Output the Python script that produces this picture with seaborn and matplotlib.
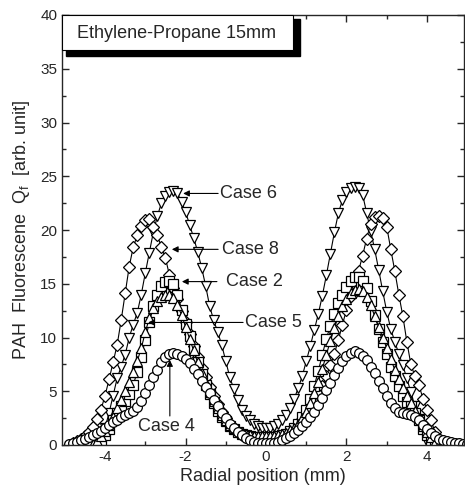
import numpy as np
import pandas as pd
import matplotlib
matplotlib.use("Agg")
import matplotlib.pyplot as plt
from matplotlib.patches import Rectangle
import seaborn as sns

# radial grid (mm), step 0.1
radial = [-5.0, -4.9, -4.8, -4.7, -4.6, -4.5, -4.4, -4.3, -4.2, -4.1,
          -4.0, -3.9, -3.8, -3.7, -3.6, -3.5, -3.4, -3.3, -3.2, -3.1,
          -3.0, -2.9, -2.8, -2.7, -2.6, -2.5, -2.4, -2.3, -2.2, -2.1,
          -2.0, -1.9, -1.8, -1.7, -1.6, -1.5, -1.4, -1.3, -1.2, -1.1,
          -1.0, -0.9, -0.8, -0.7, -0.6, -0.5, -0.4, -0.3, -0.2, -0.1,
          0.0, 0.1, 0.2, 0.3, 0.4, 0.5, 0.6, 0.7, 0.8, 0.9,
          1.0, 1.1, 1.2, 1.3, 1.4, 1.5, 1.6, 1.7, 1.8, 1.9,
          2.0, 2.1, 2.2, 2.3, 2.4, 2.5, 2.6, 2.7, 2.8, 2.9,
          3.0, 3.1, 3.2, 3.3, 3.4, 3.5, 3.6, 3.7, 3.8, 3.9,
          4.0, 4.1, 4.2, 4.3, 4.4, 4.5, 4.6, 4.7, 4.8, 4.9,
          5.0]

N = None
case6 = [N, N, N, N, N, N, N, N, N, 0.3,
         1.6, 3.0, 4.6, 6.2, 7.3, 8.4, 10.0, 11.2, 12.3, 14.0,
         16.0, 17.9, 19.8, 21.3, 22.5, 23.2, 23.5, 23.6, 23.4, 22.6,
         21.7, 20.5, 19.3, 18.0, 16.5, 14.8, 12.9, 11.6, 10.5, 9.3,
         7.8, 6.3, 5.2, 4.2, 3.3, 2.7, 2.3, 2.0, 1.8, 1.6,
         1.6, 1.6, 1.8, 2.0, 2.3, 2.8, 3.4, 4.3, 5.3, 6.4,
         7.8, 9.2, 10.7, 12.2, 13.9, 15.8, 17.8, 19.8, 21.6, 22.8,
         23.5, 23.9, 24.0, 23.9, 23.3, 21.6, 19.9, 18.2, 16.3, 14.3,
         12.4, 10.8, 9.6, 8.5, 7.4, 6.2, 4.9, 3.6, 2.4, 1.3,
         0.3, N, N, N, N, N, N, N, N, N,
         N]

case8 = [N, N, 0.15, 0.4, 0.6, 0.85, 1.2, 1.7, 2.4, 3.3,
         4.6, 6.1, 7.7, 9.3, 11.6, 14.1, 16.6, 18.4, 19.5, 20.4,
         20.9, 21.0, 20.3, 19.5, 18.4, 17.4, 15.8, 14.6, 13.6, 12.5,
         11.4, 10.3, 9.2, 8.2, 7.2, 6.3, 5.4, 4.6, 3.8, 3.1,
         2.5, 2.0, 1.6, 1.2, 0.95, 0.75, 0.6, 0.5, 0.45, 0.4,
         0.4, 0.45, 0.5, 0.6, 0.75, 0.95, 1.2, 1.5, 1.9, 2.4,
         2.9, 3.4, 4.0, 4.7, 5.5, 6.4, 7.4, 8.5, 9.8, 11.2,
         12.6, 13.9, 15.0, 16.2, 17.6, 19.2, 20.6, 21.2, 21.3, 21.1,
         20.3, 18.2, 16.2, 14.0, 12.0, 9.6, 7.5, 6.4, 5.6, 4.3,
         3.3, 2.3, 1.2, 0.6, 0.3, 0.1, N, N, N, N,
         N]

case2 = [N, N, N, N, N, N, N, N, 0.1, 0.4,
         0.9, 1.5, 2.3, 3.0, 3.6, 4.1, 4.7, 5.6, 6.8, 8.2,
         9.8, 11.4, 12.9, 14.0, 14.8, 15.2, 15.3, 15.0, 14.0, 12.6,
         11.3, 10.1, 8.9, 7.7, 6.6, 5.6, 4.7, 3.9, 3.2, 2.6,
         2.2, 1.8, 1.5, 1.25, 1.05, 0.9, 0.8, 0.75, 0.7, 0.7,
         0.7, 0.7, 0.75, 0.8, 0.9, 1.05, 1.3, 1.6, 2.0, 2.6,
         3.3, 4.3, 5.5, 6.9, 8.4, 9.9, 11.1, 12.2, 13.2, 14.0,
         14.7, 15.3, 15.6, 15.6, 15.3, 14.6, 13.4, 12.1, 10.8, 9.6,
         8.5, 7.3, 6.4, 5.5, 4.6, 4.0, 3.6, 3.0, 2.3, 1.5,
         0.9, 0.4, 0.1, N, N, N, N, N, N, N,
         N]

case5 = [N, N, N, N, N, N, N, 0.1, 0.4, 0.8,
         1.3, 1.9, 2.6, 3.4, 4.2, 5.0, 5.9, 6.8, 7.8, 9.0,
         10.5, 11.8, 12.7, 13.4, 13.8, 14.0, 14.0, 13.7, 13.0, 12.1,
         11.0, 9.9, 8.8, 7.7, 6.7, 5.8, 4.9, 4.1, 3.4, 2.8,
         2.3, 1.9, 1.6, 1.35, 1.15, 1.0, 0.9, 0.85, 0.8, 0.8,
         0.8, 0.8, 0.85, 0.9, 1.0, 1.15, 1.35, 1.6, 2.0, 2.5,
         3.1, 3.9, 4.8, 5.9, 7.1, 8.4, 9.7, 10.9, 12.0, 12.9,
         13.6, 14.1, 14.4, 14.5, 14.3, 13.8, 13.0, 12.0, 11.0, 10.0,
         9.0, 8.0, 7.0, 6.1, 5.3, 4.6, 3.9, 3.2, 2.5, 1.8,
         1.2, 0.7, 0.3, 0.1, N, N, N, N, N, N,
         N]

case4 = [N, 0.05, 0.15, 0.3, 0.45, 0.6, 0.75, 0.9, 1.1, 1.3,
         1.55, 1.85, 2.1, 2.35, 2.6, 2.8, 3.0, 3.2, 3.5, 4.1,
         4.8, 5.6, 6.3, 7.0, 7.7, 8.2, 8.5, 8.6, 8.5, 8.3,
         8.0, 7.6, 7.1, 6.6, 6.0, 5.4, 4.8, 4.2, 3.6, 3.0,
         2.5, 2.0, 1.6, 1.2, 0.9, 0.65, 0.45, 0.3, 0.2, 0.15,
         0.15, 0.15, 0.2, 0.3, 0.45, 0.65, 0.85, 1.1, 1.4, 1.75,
         2.1, 2.6, 3.1, 3.7, 4.4, 5.1, 5.8, 6.5, 7.2, 7.8,
         8.3, 8.6, 8.7, 8.6, 8.3, 7.9, 7.3, 6.7, 6.0, 5.3,
         4.6, 3.9, 3.4, 3.1, 3.0, 2.9, 2.8, 2.6, 2.3, 1.9,
         1.5, 1.1, 0.8, 0.6, 0.45, 0.35, 0.25, 0.2, 0.15, 0.1,
         0.05]

series = [("Case 6", case6, "v", 7.5),
          ("Case 8", case8, "D", 6.0),
          ("Case 2", case2, "s", 6.5),
          ("Case 5", case5, "^", 7.5),
          ("Case 4", case4, "o", 7.0)]

sns.set_style("ticks")
plt.rcParams['font.family'] = ['Liberation Sans', 'DejaVu Sans']
plt.rcParams['axes.unicode_minus'] = False
plt.rcParams['mathtext.fontset'] = 'custom'
plt.rcParams['mathtext.rm'] = 'Liberation Sans'
plt.rcParams['mathtext.it'] = 'Liberation Sans'

fig = plt.figure(figsize=(4.65, 4.95), dpi=100)
ax = fig.add_axes([62 / 465, 50 / 495, 402 / 465, 430 / 495])

for name, vals, mk, ms in series:
    df = pd.DataFrame({"r": radial, "q": [np.nan if v is None else v for v in vals]}).dropna()
    sns.lineplot(data=df, x="r", y="q", ax=ax, color="black", linewidth=0.8,
                 marker=mk, markersize=ms, markerfacecolor="white",
                 markeredgecolor="black", markeredgewidth=0.9,
                 estimator=None, sort=False)

ax.set_xlim(-5.07, 4.92)
ax.set_ylim(0, 40)
ax.set_xticks([-4, -2, 0, 2, 4])
ax.set_xticks([-5, -3, -1, 1, 3], minor=True)
ax.set_yticks(range(0, 41, 5))
ax.set_yticks(np.arange(2.5, 40, 5), minor=True)
ax.tick_params(which='both', direction='in', top=True, right=True, labelsize=11)
ax.tick_params(which='major', length=5, width=1)
ax.tick_params(which='minor', length=3, width=1)
for s in ax.spines.values():
    s.set_linewidth(1.0)

ax.set_xlabel("Radial position (mm)", fontsize=13, labelpad=3)
ax.set_ylabel("PAH  Fluorescene  Q$_{\\rm f}$  [arb. unit]", fontsize=13, labelpad=6)

# labels with arrows
labels = [("Case 6", -1.14, 23.4, -1.19, -2.06),
          ("Case 8", -1.09, 18.2, -1.19, -2.34),
          ("Case 2", -0.99, 15.2, -1.22, -2.09),
          ("Case 5", -0.52, 11.4, -0.57, -2.93)]
for txt, tx, ty, x0, x1 in labels:
    ax.text(tx, ty, txt, fontsize=13, ha='left', va='center')
    ax.annotate("", xy=(x1, ty), xytext=(x0, ty),
                arrowprops=dict(arrowstyle='-|>', color='black', lw=0.8,
                                mutation_scale=9, shrinkA=0, shrinkB=0))
ax.text(-2.48, 1.7, "Case 4", fontsize=13, ha='center', va='center')
ax.annotate("", xy=(-2.39, 7.9), xytext=(-2.39, 2.7),
            arrowprops=dict(arrowstyle='-|>', color='black', lw=0.8,
                            mutation_scale=9, shrinkA=0, shrinkB=0))

# title box with shadow
ax.add_patch(Rectangle((0.01, 0.905), 0.582, 0.086, transform=ax.transAxes,
                       facecolor='black', edgecolor='black', zorder=5, clip_on=False))
ax.add_patch(Rectangle((0.0, 0.919), 0.575, 0.081, transform=ax.transAxes,
                       facecolor='white', edgecolor='black', linewidth=0.8, zorder=6,
                       clip_on=False))
ax.text(0.284, 0.958, "Ethylene-Propane 15mm", transform=ax.transAxes,
        fontsize=13, ha='center', va='center', zorder=7)

fig.savefig("out.png", dpi=100)
